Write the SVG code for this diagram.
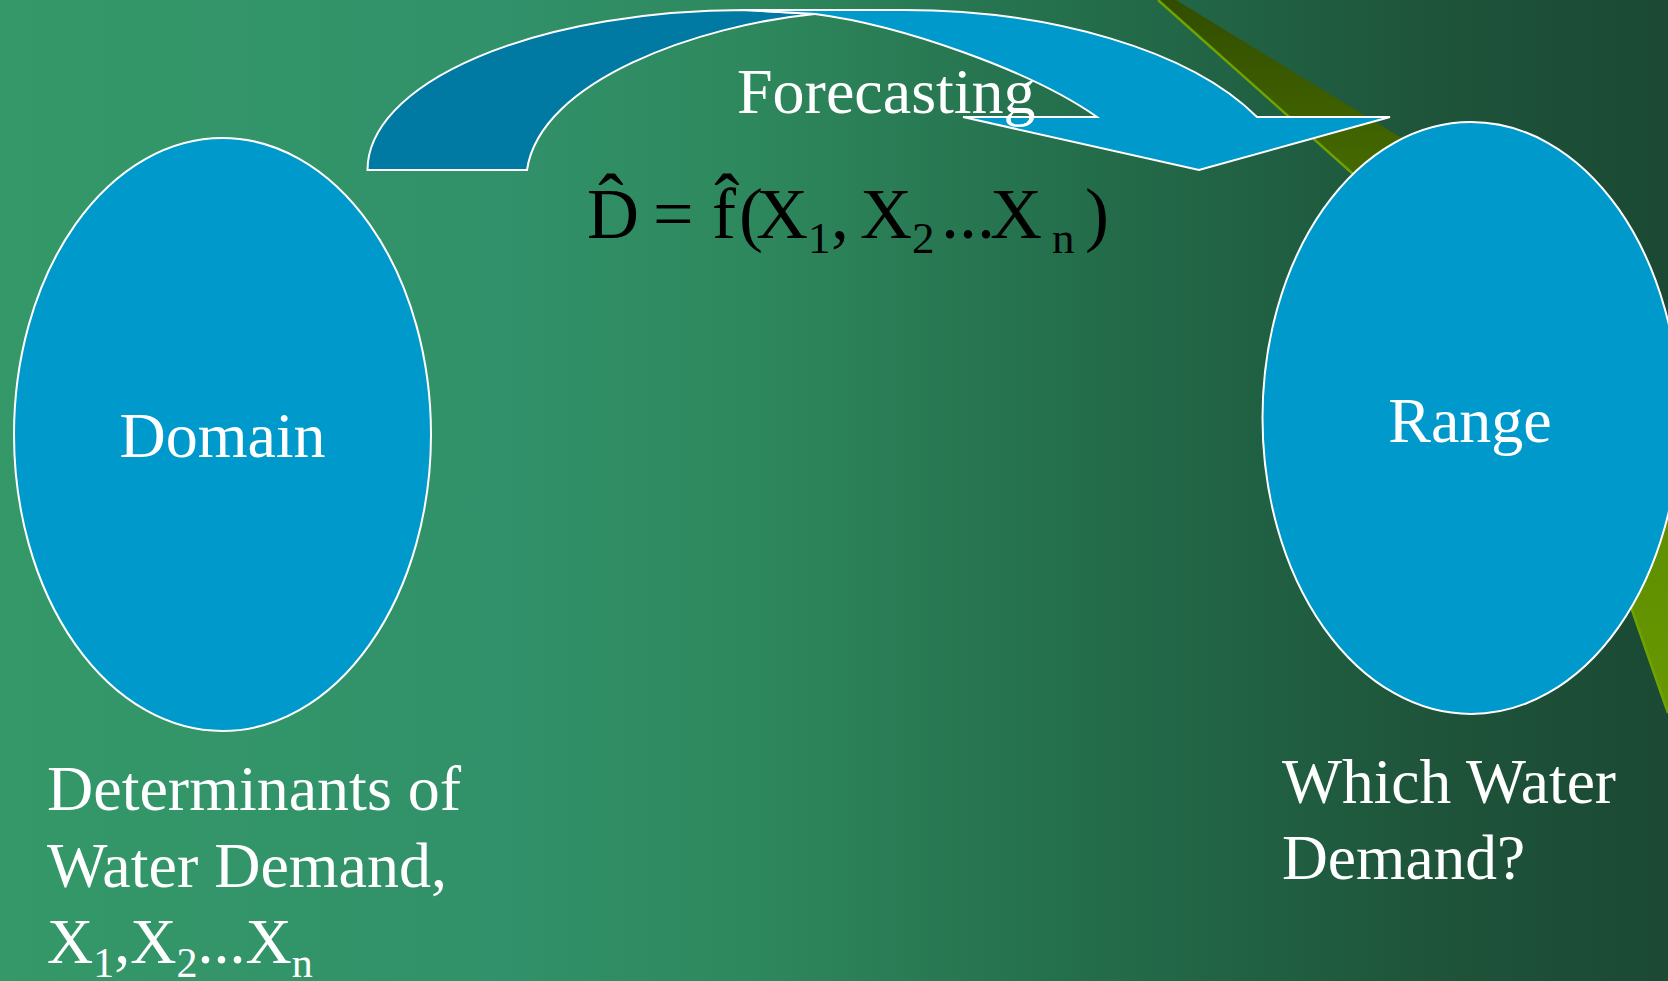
<svg xmlns="http://www.w3.org/2000/svg" width="1668" height="981" viewBox="0 0 1668 981">
<defs>
<linearGradient id="bg" x1="0" y1="0" x2="1668" y2="0" gradientUnits="userSpaceOnUse">
<stop offset="0" stop-color="#349868"/>
<stop offset="0.3" stop-color="#31916a"/>
<stop offset="0.45" stop-color="#2e885d"/>
<stop offset="0.66" stop-color="#236c4a"/>
<stop offset="0.85" stop-color="#1e553b"/>
<stop offset="1" stop-color="#1b4934"/>
</linearGradient>
<linearGradient id="sw" x1="0" y1="0" x2="0" y2="713" gradientUnits="userSpaceOnUse">
<stop offset="0" stop-color="#324d00"/>
<stop offset="0.25" stop-color="#466a00"/>
<stop offset="0.7" stop-color="#5f8d00"/>
<stop offset="1" stop-color="#679800"/>
</linearGradient>
<style>
.node{fill:#0099cc;stroke:#ffffff;stroke-width:2}
.lbl{font-family:"Liberation Serif","Times New Roman",serif;fill:#ffffff;font-size:64px}
.eq{font-family:"Liberation Serif","Times New Roman",serif;fill:#000000;font-size:72px}
.sub{font-size:45px}
.arrow{stroke:#ffffff;stroke-width:2;stroke-linejoin:miter}
</style>
</defs>
<rect x="0" y="0" width="1668" height="981" fill="url(#bg)"/>
<g id="swoosh">
<path d="M1158,0 L1176,0 L1400,137 L1668,320 L1668,713 L1632,610 L1560,420 L1352,173 Z" fill="url(#sw)"/>
<path d="M1158,0 L1352,173 L1560,420 L1632,610 L1668,713" fill="none" stroke="#6fa300" stroke-width="2.5"/>
</g>
<g id="connectors">
<g id="forecasting-arrow">
<path class="arrow" d="M367.5,170 A377.5,160 0 0 1 745,10 L815,14 C700,25 540,80 527,170 Z" fill="#007aa3"/>
<path class="arrow" d="M745,10 L904,10 C1050,10 1190,50 1257,117 L1390,117 L1199,170 L963,117 L1097,117 C1030,70 900,25 815,14 Z" fill="#0099cc"/>
</g>
<text class="lbl" x="737" y="113">Forecasting</text>
</g>
<g id="formula">
<text class="eq" y="238"><tspan x="587">D</tspan><tspan x="653">=</tspan><tspan x="712">f</tspan><tspan x="739">(</tspan><tspan x="756">X</tspan><tspan x="808" y="253" class="sub">1</tspan><tspan x="831" y="238">,</tspan><tspan x="860">X</tspan><tspan x="912" y="253" class="sub">2</tspan><tspan x="941" y="238">...</tspan><tspan x="990">X</tspan><tspan x="1052" y="253" class="sub">n</tspan><tspan x="1085" y="238">)</tspan></text>
<text class="eq" x="611" y="227" text-anchor="middle" style="font-size:76px">ˆ</text>
<text class="eq" x="727" y="227" text-anchor="middle" style="font-size:76px">ˆ</text>
</g>
<g id="domain">
<ellipse class="node" cx="222.5" cy="434.5" rx="208.5" ry="296.5"/>
<text class="lbl" x="222.5" y="457" text-anchor="middle">Domain</text>
</g>
<g id="range">
<ellipse class="node" cx="1471" cy="418" rx="208.5" ry="296"/>
<text class="lbl" x="1470" y="442" text-anchor="middle">Range</text>
</g>
<g id="domain-caption">
<text class="lbl" x="47" y="810">Determinants of</text>
<text class="lbl" x="47" y="887">Water Demand,</text>
<text class="lbl" x="47" y="963">X<tspan style="font-size:42px" dy="14">1</tspan><tspan dy="-14">,X</tspan><tspan style="font-size:42px" dy="14">2</tspan><tspan dy="-14">...X</tspan><tspan style="font-size:42px" dy="14">n</tspan></text>
</g>
<g id="range-caption">
<text class="lbl" x="1282" y="803" style="font-size:63.5px">Which Water</text>
<text class="lbl" x="1282" y="879" style="font-size:63.5px">Demand?</text>
</g>
</svg>
